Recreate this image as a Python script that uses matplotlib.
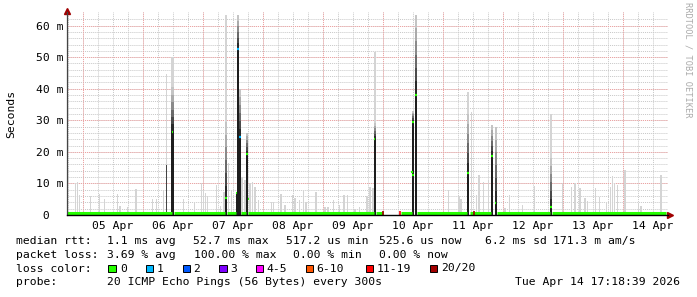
import numpy as np
import matplotlib.pyplot as plt
from matplotlib.patches import Rectangle

W, H = 697, 297
MONO = "DejaVu Sans Mono"
FS = 8.2

# time in hours since 04 Apr 00:00, latency in ms
smoke_t = [17.9, 21.0, 21.8, 22.6, 27.2, 28.9, 30.6, 32.7, 37.8, 38.9, 42.0, 45.3,
           52.0, 53.6, 56.2, 64.2, 68.6, 71.6, 72.3, 73.1, 73.9, 77.6, 79.2, 80.5,
           82.2, 83.6, 86.9, 87.7, 88.9, 90.9, 91.9, 92.9, 94.2, 99.6, 100.2, 103.3,
           104.9, 108.0, 108.9, 110.6, 112.2, 113.3, 117.3, 120.9, 122.1, 124.2,
           126.6, 128.5, 129.8, 132.9, 134.6, 137.7, 138.9, 140.1, 170.2, 174.5,
           175.3, 179.6, 181.6, 182.5, 184.2, 186.2, 192.9, 194.6, 200.0, 204.6,
           216.0, 219.6, 220.9, 222.9, 224.9, 225.8, 229.0, 230.6, 233.6, 235.2,
           236.0, 236.8, 237.8, 240.9, 246.2, 247.3, 255.3]
smoke_max = [12.0, 10.0, 10.4, 6.3, 6.0, 1.0, 6.6, 5.0, 6.6, 3.0, 2.6, 8.1,
             5.0, 5.0, 7.9, 5.0, 4.2, 10.0, 8.0, 7.0, 6.0, 9.5, 3.0, 7.4,
             16.4, 7.9, 12.0, 12.0, 11.0, 10.0, 10.5, 9.0, 4.7, 4.2, 4.2, 6.6,
             3.2, 6.3, 5.5, 4.7, 7.7, 4.2, 7.4, 2.6, 2.6, 4.7,
             3.2, 6.3, 6.3, 1.9, 2.5, 6.0, 8.9, 8.5, 7.9, 6.0,
             5.0, 32.6, 6.3, 12.6, 10.5, 11.0, 2.2, 6.3, 3.2, 9.3,
             10.0, 9.0, 10.0, 8.7, 5.3, 4.5, 8.4, 5.8, 4.2, 9.0,
             12.3, 10.0, 9.5, 14.4, 3.7, 2.8, 12.6]

# latency spikes: dense smoke core, fading smoke, faint max, loss at median
spike_t = [57.6, 60.0, 81.3, 85.6, 86.2, 86.9, 89.7, 140.8, 156.2, 157.3, 178.2, 187.8, 189.2, 211.3]
spike_w = [0.5, 1.0, 0.8, 0.5, 1.0, 0.6, 0.8, 0.8, 0.8, 1.0, 0.8, 1.0, 0.8, 0.6]
spike_core = [15.8, 26.3, 5.3, 7.0, 52.6, 24.7, 19.3, 24.2, 29.5, 38.1, 13.4, 18.6, 3.7, 2.6]
spike_haze = [15.8, 40.5, 29.5, 7.0, 63.4, 40.0, 26.0, 29.0, 33.0, 63.4, 32.0, 28.4, 27.9, 18.0]
spike_max = [44.8, 50.0, 63.4, 7.0, 63.4, 40.0, 26.0, 51.6, 33.0, 63.4, 39.0, 28.4, 27.9, 32.0]
spike_loss = [None, 0, 0, 0, 1, 1, 0, 0, 0, 0, 0, 0, 0, 0]

# extra median points
dot_t = [90.4, 155.8, 156.2]
dot_v = [5.0, 13.7, 12.7]

# median ~0.5 ms with 0 loss
median_rtt = 0.5
median_runs = [(17.7, 59.6), (60.6, 80.9), (81.9, 85.3), (87.2, 89.3), (90.3, 140.4),
               (141.4, 144.0), (151.2, 155.7), (157.8, 177.8), (178.8, 187.3),
               (189.6, 210.9), (211.7, 257.3)]
# loss markers on median line: (time, loss class)
loss_marks = [(144.1, "20/20"), (151.0, "11-19"), (180.4, "20/20")]

loss_labels = ["0", "1", "2", "3", "4-5", "6-10", "11-19", "20/20"]
loss_colors = ["#26ff00", "#00b8ff", "#0059ff", "#7e00ff", "#ff00ff", "#ff5500", "#ff0000", "#a10000"]

day_labels = ["05 Apr", "06 Apr", "07 Apr", "08 Apr", "09 Apr",
              "10 Apr", "11 Apr", "12 Apr", "13 Apr", "14 Apr"]
y_labels = [" 0", "10 m", "20 m", "30 m", "40 m", "50 m", "60 m"]

fig = plt.figure(figsize=(W / 100, H / 100), dpi=100)
ax = fig.add_axes([67 / W, (H - 215) / H, (668 - 67) / W, (215 - 12) / H])
x0, x1 = 17.72, 258.12
y1 = 64.3
ax.set_xlim(x0, x1)
ax.set_ylim(0, y1)

# grid
dots = (0, (1, 1))
for y in np.arange(2, 63, 2):
    ax.axhline(y, color="#c8c8c8", lw=0.7, ls=dots, zorder=0)
for x in np.arange(18, 258, 6):
    ax.axvline(x, color="#c8c8c8", lw=0.7, ls=dots, zorder=0)
for y in np.arange(10, 61, 10):
    ax.axhline(y, color="#f0a0a0", lw=0.7, ls=dots, zorder=0.5)
for x in np.arange(24, 258, 24):
    ax.axvline(x, color="#f0a0a0", lw=0.7, ls=dots, zorder=0.5)

# light smoke
ax.bar(smoke_t, smoke_max, width=0.5, color="#d4d4d4", lw=0, zorder=1)

# spikes
fade = ["#2a2a2a", "#4a4a4a", "#6a6a6a", "#8a8a8a", "#aaaaaa", "#c4c4c4"]
for t, w, c, hz, mx, loss in zip(spike_t, spike_w, spike_core, spike_haze, spike_max, spike_loss):
    ax.bar(t, mx, width=w, color="#d4d4d4", lw=0, zorder=1)
    if hz > c:
        edges = np.linspace(c, hz, len(fade) + 1)
        for k, col in enumerate(fade):
            ax.bar(t, edges[k + 1] - edges[k], bottom=edges[k], width=w, color=col, lw=0, zorder=2)
    ax.bar(t, c, width=w, color="#1e1e1e" if loss is not None else "#444444", lw=0, zorder=3)
    if loss is not None:
        ax.hlines(c, t - 0.3, t + 0.3, color=loss_colors[loss], lw=1.6, zorder=5)

for t, v in zip(dot_t, dot_v):
    ax.hlines(v, t - 0.3, t + 0.3, color=loss_colors[0], lw=1.6, zorder=5)

# median line
for a, b in median_runs:
    ax.hlines(median_rtt, a, b, color=loss_colors[0], lw=2.2, zorder=4)
for t, cls in loss_marks:
    ax.vlines(t, 0, 1.2, color=loss_colors[loss_labels.index(cls)], lw=1.2, zorder=4)

# axes look
for s in ["top", "right"]:
    ax.spines[s].set_visible(False)
ax.spines["left"].set_color("#444444")
ax.spines["bottom"].set_color("black")
ax.spines["left"].set_linewidth(0.9)
ax.spines["bottom"].set_linewidth(1.0)
ax.spines["left"].set_zorder(6)
ax.spines["bottom"].set_zorder(6)
ax.plot([0], [1.005], marker="^", color="#a00000", ms=5, transform=ax.transAxes, clip_on=False)
ax.plot([1.004], [0], marker=">", color="#a00000", ms=5, transform=ax.transAxes, clip_on=False)

ax.set_xticks(np.arange(36, 253, 24))
ax.set_xticklabels(day_labels, family=MONO, fontsize=FS)
ax.set_yticks(np.arange(0, 61, 10))
ax.set_yticklabels(y_labels, family=MONO, fontsize=FS)
ax.tick_params(axis="x", length=0, pad=4)
ax.tick_params(axis="y", length=0, pad=22.3)
for lbl in ax.get_yticklabels():
    lbl.set_horizontalalignment("left")


def ftext(x, y, s, **kw):
    fig.text(x / W, 1 - y / H, s, va="center", ha=kw.pop("ha", "left"),
             family=MONO, fontsize=kw.pop("fontsize", FS), **kw)


ftext(11, 113.5, "Seconds", rotation=90, ha="center")
ftext(688, 60, "RRDTOOL / TOBI OETIKER", rotation=270, ha="center",
      fontsize=6.2, color="#aaaaaa")

row1 = [("median rtt:", 16), ("1.1 ms avg", 107), ("52.7 ms max", 193.3),
        ("517.2 us min", 286), ("525.6 us now", 379.3), ("6.2 ms sd", 485),
        ("171.3 m am/s", 553)]
row2 = [("packet loss:", 16), ("3.69 % avg", 107.3), ("100.00 % max", 194),
        ("0.00 % min", 292.7), ("0.00 % now", 379.3)]
for s, x in row1:
    ftext(x, 240.7, s)
for s, x in row2:
    ftext(x, 255, s)

ftext(16, 268.5, "loss color:")
box_x = [108.3, 145.7, 182.7, 219.3, 256, 306, 365.7, 430]
lab_x = [120, 156.7, 193.3, 230, 266.7, 316.7, 376.7, 441]
for bx, lx, lab, col in zip(box_x, lab_x, loss_labels, loss_colors):
    fig.add_artist(Rectangle((bx / W, (H - 272.3) / H), 7.3 / W, 7.3 / H,
                             transform=fig.transFigure, facecolor=col,
                             edgecolor="black", lw=0.7))
    ftext(lx, 268.5, lab)

ftext(16, 282.3, "probe:")
ftext(107.3, 282.3, "20 ICMP Echo Pings (56 Bytes) every 300s")
ftext(680, 282.3, "Tue Apr 14 17:18:39 2026", ha="right")

fig.savefig("out.png", dpi=100, facecolor="white")
